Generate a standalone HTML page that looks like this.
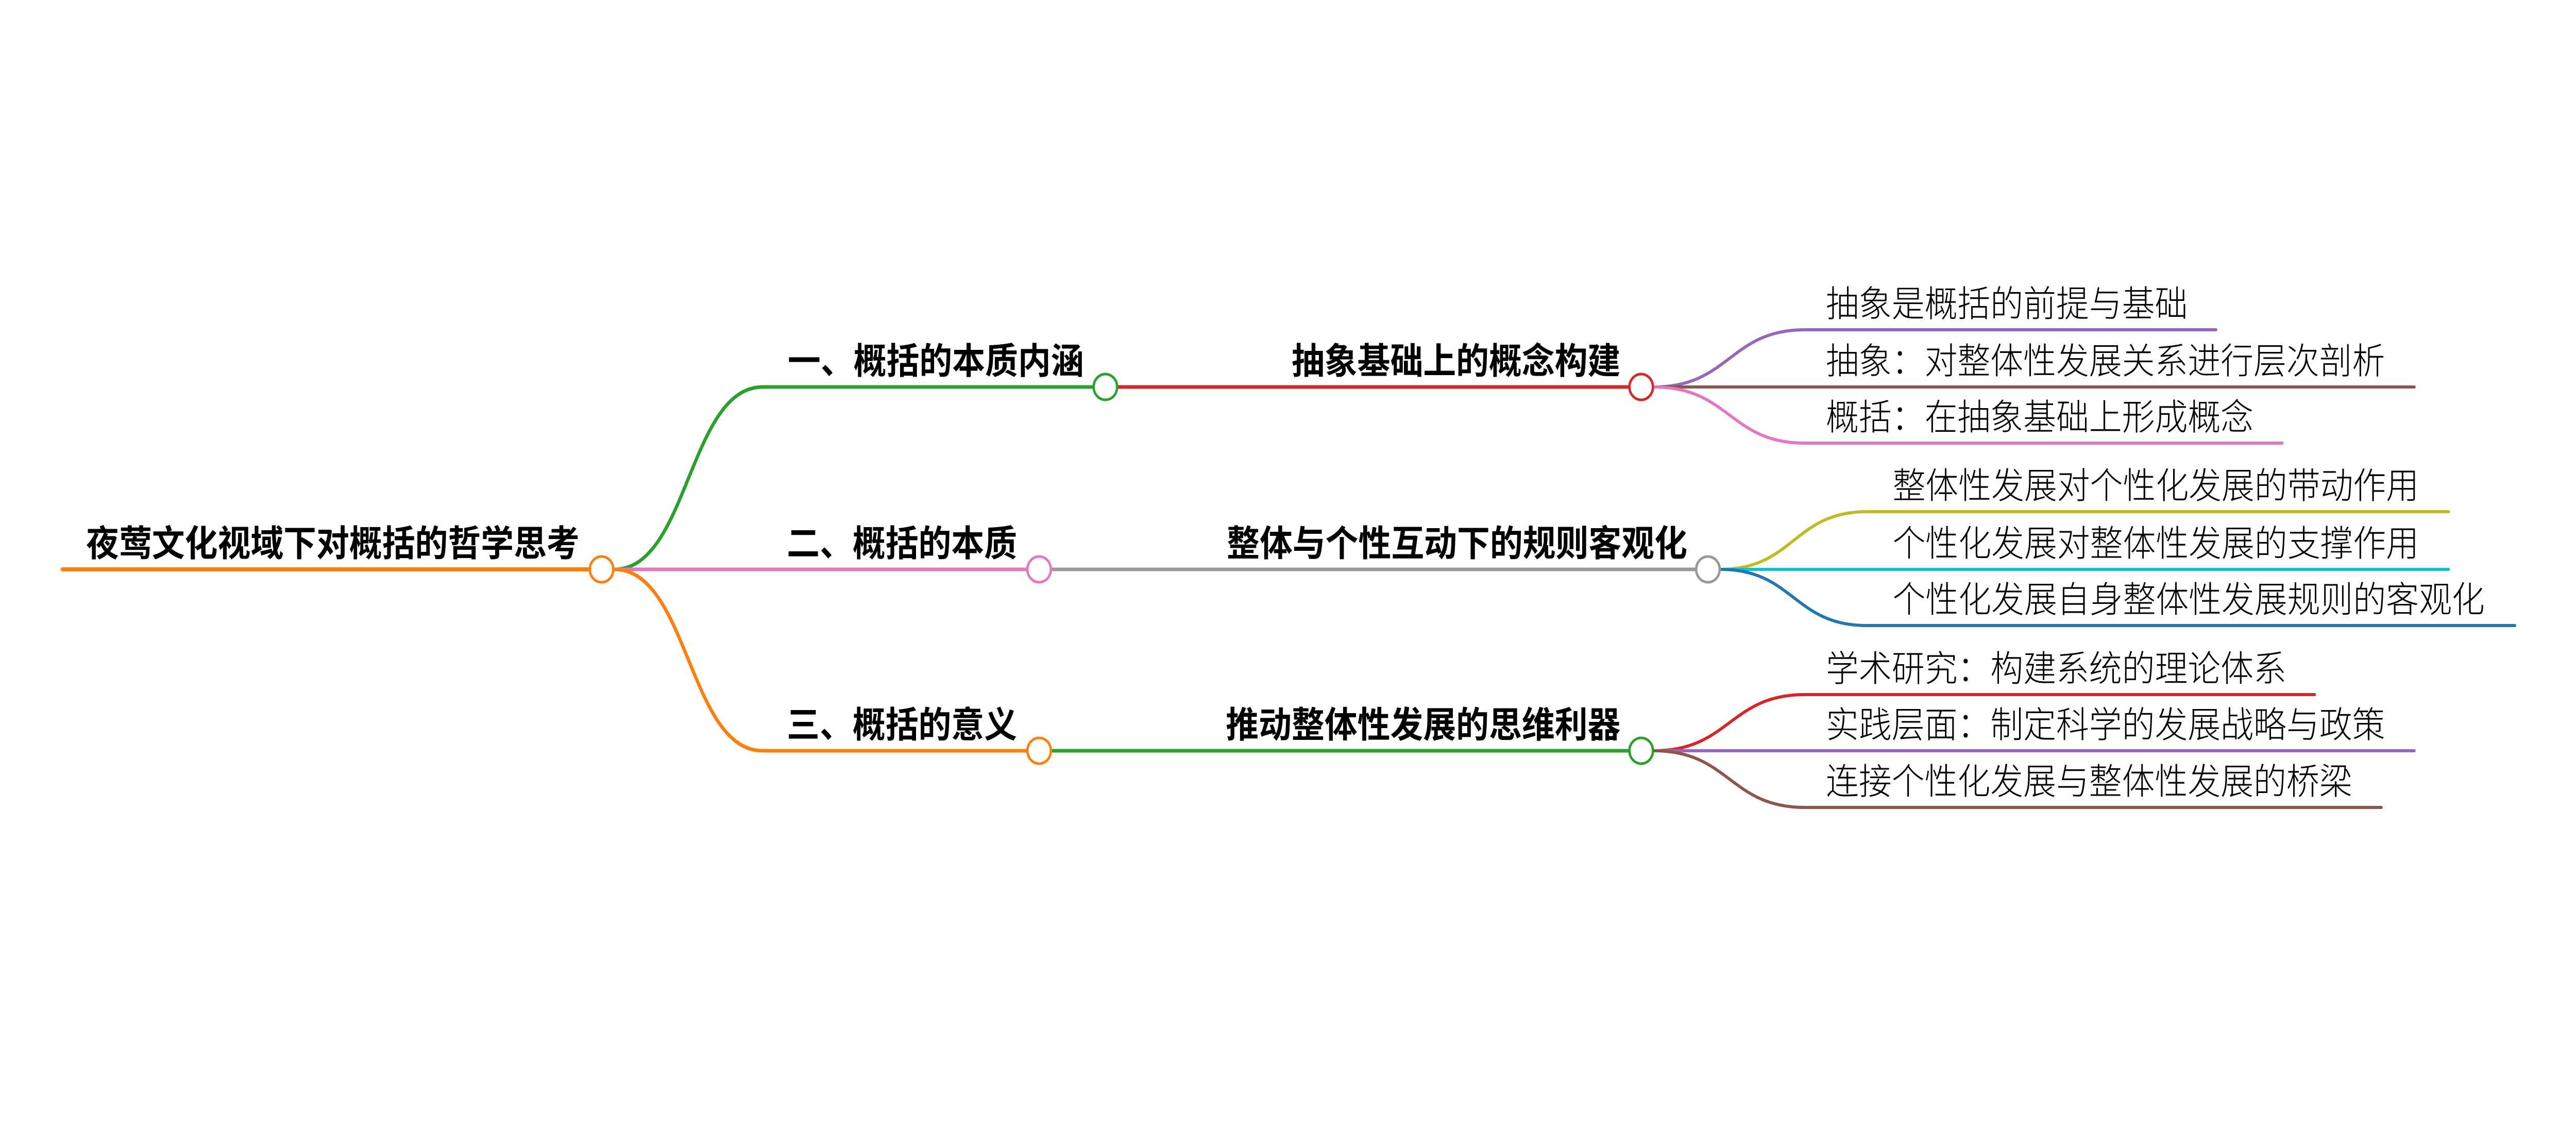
<!DOCTYPE html>
<html><head><meta charset="utf-8"><style>
html,body{margin:0;padding:0;background:#fff;width:100%;height:100%;overflow:hidden;}
svg{display:block;width:100vw;height:100vh;}
text{font-family:"Liberation Sans","Noto Sans CJK SC",sans-serif;font-size:70px;fill:#000;}
.b{font-weight:bold;}
.l{font-weight:300;}
</style></head><body>
<svg viewBox="0 0 5481 2193" preserveAspectRatio="none" xmlns="http://www.w3.org/2000/svg">
<g fill="none" stroke-linecap="round">
<path d="M133,1105 H1253" stroke="#ff7f0e" stroke-width="8"/>
<path d="M1307,1105 C1465,1105 1465,751 1623,751 H2324" stroke="#2ca02c" stroke-width="7"/>
<path d="M1307,1105 H2183" stroke="#e377c2" stroke-width="7"/>
<path d="M1307,1105 C1465,1105 1465,1457 1623,1457 H2183" stroke="#ff7f0e" stroke-width="7"/>
<path d="M2379,751 H3464" stroke="#d62728" stroke-width="7"/>
<path d="M2238,1105 H3607" stroke="#999999" stroke-width="7"/>
<path d="M2238,1457 H3464" stroke="#2ca02c" stroke-width="7"/>
<path d="M3519,751 C3680,751 3680,640 3840,640 H4715" stroke="#9467bd" stroke-width="6"/>
<path d="M3519,751 H5137" stroke="#8c564b" stroke-width="6"/>
<path d="M3519,751 C3680,751 3680,860 3840,860 H4856" stroke="#e377c2" stroke-width="6"/>
<path d="M3661,1105 C3816,1105 3816,993 3972,993 H5210" stroke="#bcbd22" stroke-width="6"/>
<path d="M3661,1105 H5210" stroke="#17becf" stroke-width="6"/>
<path d="M3661,1105 C3816,1105 3816,1214 3972,1214 H5351" stroke="#1f77b4" stroke-width="6"/>
<path d="M3519,1457 C3680,1457 3680,1348 3840,1348 H4925" stroke="#d62728" stroke-width="6"/>
<path d="M3519,1457 H5137" stroke="#9467bd" stroke-width="6"/>
<path d="M3519,1457 C3680,1457 3680,1567 3840,1567 H5067" stroke="#8c564b" stroke-width="6"/>
</g>
<g fill="#fff" stroke-width="5">
<circle cx="1280" cy="1105" r="25" stroke="#ff7f0e"/>
<circle cx="2352" cy="751" r="25" stroke="#2ca02c"/>
<circle cx="2211" cy="1105" r="25" stroke="#e377c2"/>
<circle cx="2211" cy="1457" r="25" stroke="#ff7f0e"/>
<circle cx="3492" cy="751" r="25" stroke="#d62728"/>
<circle cx="3634" cy="1105" r="25" stroke="#999999"/>
<circle cx="3492" cy="1457" r="25" stroke="#2ca02c"/>
</g>
<text class="b" x="1233" y="1079" text-anchor="end">夜莺文化视域下对概括的哲学思考</text>
<text class="b" x="2306" y="725" text-anchor="end">一、概括的本质内涵</text>
<text class="b" x="2164" y="1079" text-anchor="end">二、概括的本质</text>
<text class="b" x="2164" y="1431" text-anchor="end">三、概括的意义</text>
<text class="b" x="3448" y="725" text-anchor="end">抽象基础上的概念构建</text>
<text class="b" x="3590" y="1079" text-anchor="end">整体与个性互动下的规则客观化</text>
<text class="b" x="3448" y="1431" text-anchor="end">推动整体性发展的思维利器</text>
<text class="l" x="3885" y="614">抽象是概括的前提与基础</text>
<text class="l" x="3885" y="725">抽象：对整体性发展关系进行层次剖析</text>
<text class="l" x="3885" y="834">概括：在抽象基础上形成概念</text>
<text class="l" x="4027" y="967">整体性发展对个性化发展的带动作用</text>
<text class="l" x="4027" y="1079">个性化发展对整体性发展的支撑作用</text>
<text class="l" x="4027" y="1188">个性化发展自身整体性发展规则的客观化</text>
<text class="l" x="3885" y="1322">学术研究：构建系统的理论体系</text>
<text class="l" x="3885" y="1431">实践层面：制定科学的发展战略与政策</text>
<text class="l" x="3885" y="1541">连接个性化发展与整体性发展的桥梁</text>
</svg>
</body></html>
